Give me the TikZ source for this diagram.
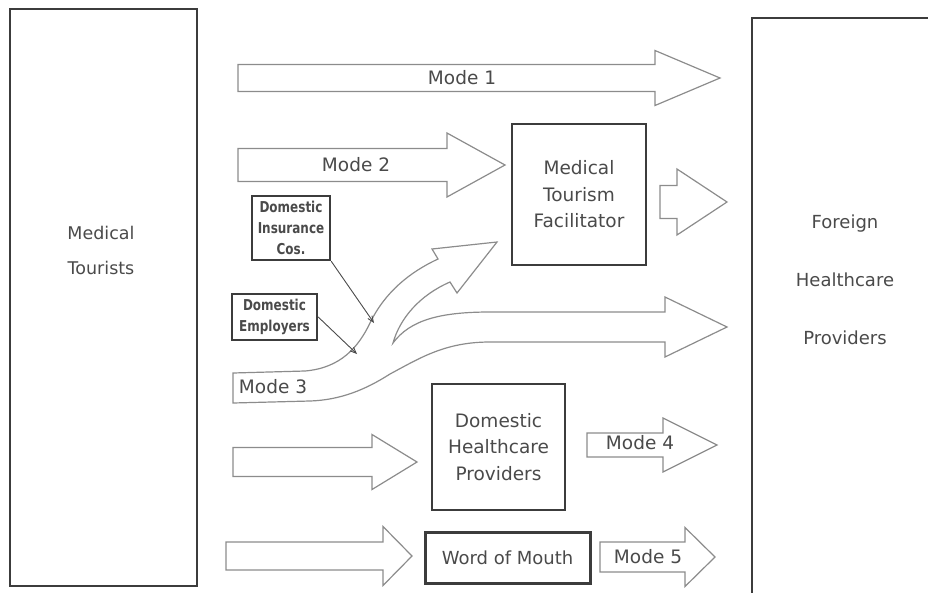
\documentclass[tikz,border=0pt]{standalone}
\usepackage{fontspec}
\setmainfont{DejaVu Sans}
\newfontfamily\narrowfont[FakeStretch=0.8]{DejaVu Sans}
\usetikzlibrary{arrows.meta}

\definecolor{txtgray}{HTML}{4A4A4A}
\definecolor{linegray}{HTML}{8C8C8C}
\definecolor{boxgray}{HTML}{3C3C3C}

% straight block arrow: x0, x1 (head start), x2 (tip), y centre, half shaft, half head
\newcommand{\blockarrow}[6]{%
  \draw[fatarrow] (#1,#4-#5) -- (#2,#4-#5) -- (#2,#4-#6) -- (#3,#4)
    -- (#2,#4+#6) -- (#2,#4+#5) -- (#1,#4+#5) -- cycle;}

\begin{document}
\begin{tikzpicture}[x=1pt,y=-1pt,
    every node/.style={text=txtgray},
    fatarrow/.style={draw=linegray,line width=1.2pt,fill=white,line join=miter},
    bigbox/.style={draw=boxgray,line width=2pt},
    midbox/.style={draw=boxgray,line width=2.4pt,align=center,inner sep=0pt,
      font={\fontsize{18.5}{26.5}\selectfont}},
    smallbox/.style={draw=boxgray,line width=2.4pt,align=center,inner sep=0pt,
      font={\narrowfont\fontsize{15}{21}\selectfont\bfseries}},
    modelabel/.style={font={\fontsize{18.5}{20}\selectfont}},
    thinarrow/.style={draw=txtgray,line width=0.9pt,-{Straight Barb[length=6pt,width=5pt]}}]
  \useasboundingbox (0,0) rectangle (928,592);

  % the two sides
  \node[bigbox,minimum width=187,minimum height=577] (tourists) at (103.5,297.5) {};
  \node[align=center,font={\fontsize{17.5}{35}\selectfont}] (touriststext) at (101,250) {Medical\\Tourists};
  \draw[bigbox] (752,18) rectangle (945,610);
  \coordinate (foreign) at (752,18);
  \node[align=center,font={\fontsize{18}{58}\selectfont}] (foreigntext) at (845,280) {Foreign\\Healthcare\\Providers};

  % mode 1 and mode 2
  \blockarrow{238}{655}{720}{78}{13.5}{27.5}
  \node[modelabel] (m1) at (462,78) {Mode 1};
  \blockarrow{238}{447}{505}{165}{16.5}{32}
  \node[modelabel] (m2) at (356,165) {Mode 2};
  \node[midbox,minimum width=134,minimum height=141] (mtf) at (579,194.5) {Medical\\Tourism\\Facilitator};
  \blockarrow{660}{677}{727}{202}{16.5}{33}

  % mode 3
  \draw[fatarrow] (233,373) -- (305,371)
    .. controls (340,368) and (358,348) .. (370,323)
    .. controls (385,292) and (410,272) .. (438,259)
    -- (432,249) -- (497,242) -- (457,293) -- (450,282)
    .. controls (420,295) and (400,318) .. (393,343)
    .. controls (410,320) and (440,312) .. (490,312)
    -- (665,312) -- (665,297) -- (727,327) -- (665,357) -- (665,342)
    -- (490,342)
    .. controls (445,342) and (420,358) .. (390,374)
    .. controls (365,390) and (340,400) .. (310,401)
    -- (233,403) -- cycle;
  \node[modelabel] (m3) at (273,387) {Mode 3};
  \node[smallbox,minimum width=78,minimum height=64] (ins) at (291,228) {Domestic\\Insurance\\Cos.};
  \node[smallbox,minimum width=85,minimum height=46] (emp) at (274.5,317) {Domestic\\Employers};
  \coordinate (insend) at (374,323);
  \coordinate (empend) at (357,354);
  \draw[thinarrow] (ins.south east) -- (insend);
  \draw[thinarrow] (emp.east) -- (empend);

  % mode 4
  \blockarrow{233}{372}{417}{462}{14.5}{27.5}
  \node[midbox,line width=2pt,minimum width=133,minimum height=126] (dhp) at (498.5,447) {Domestic\\Healthcare\\Providers};
  \blockarrow{587}{663}{717}{445}{12}{27}
  \node[modelabel] (m4) at (640,443) {Mode 4};

  % mode 5
  \blockarrow{226}{383}{412}{556}{14}{29.5}
  \node[midbox,line width=3pt,minimum width=165,minimum height=51,font={\fontsize{18}{20}\selectfont}] (wom) at (507.5,557.5) {Word of Mouth};
  \blockarrow{600}{685}{715}{557}{15}{29.5}
  \node[modelabel] (m5) at (648,557) {Mode 5};
\end{tikzpicture}
\end{document}
